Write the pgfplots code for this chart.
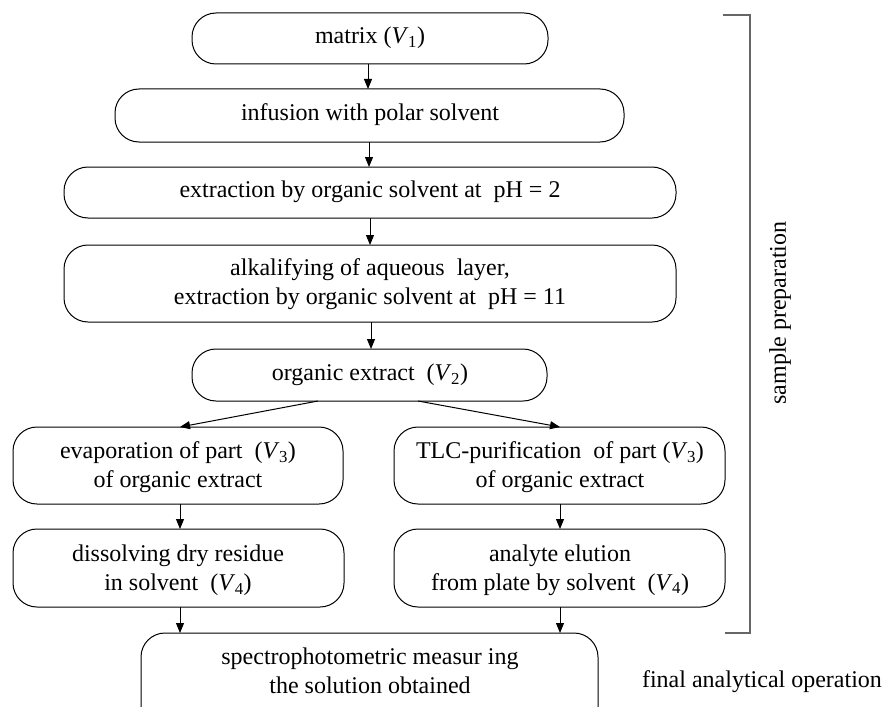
\documentclass[border=0pt]{standalone}
\usepackage{fontspec}
\setmainfont{Liberation Serif}
\usepackage{pgfplots}
\pgfplotsset{compat=1.18}
\usetikzlibrary{arrows.meta}
\newcommand{\V}[1]{\textit{V}\kern-0.5pt\textsubscript{#1}}
\tikzset{
  bx/.style={draw=black, line width=1pt, rounded corners=24pt},
  lbl/.style={align=center, font=\fontsize{24}{29}\selectfont, inner sep=0pt},
}
\pgfplotsset{arr/.style={black, solid, line width=1pt, -{Triangle[length=10pt,width=8pt]}, mark=none}}
\begin{document}
\begin{tikzpicture}
\begin{axis}[name=ax,
  width=885pt, height=706pt, scale only axis,
  xmin=0, xmax=885, ymin=0, ymax=706, y dir=reverse,
  hide axis, clip=true,
]
% boxes
\draw[bx] (axis cs:192,13) rectangle (axis cs:548,64);
\draw[bx] (axis cs:115,89) rectangle (axis cs:624,142);
\draw[bx] (axis cs:64,167) rectangle (axis cs:676,218);
\draw[bx] (axis cs:64,245) rectangle (axis cs:676,322);
\draw[bx] (axis cs:192,349) rectangle (axis cs:547,401);
\draw[bx] (axis cs:13,427) rectangle (axis cs:343,504);
\draw[bx] (axis cs:394,427) rectangle (axis cs:725,504);
\draw[bx] (axis cs:13,529) rectangle (axis cs:344,607);
\draw[bx] (axis cs:394,529) rectangle (axis cs:725,607);
\draw[bx] (axis cs:141,633) rectangle (axis cs:598,745);
% arrows
\addplot[arr] coordinates {(368,64) (368,89)};
\addplot[arr] coordinates {(369,142) (369,167)};
\addplot[arr] coordinates {(370,218) (370,245)};
\addplot[arr] coordinates {(371,322) (371,349)};
\addplot[arr] coordinates {(318,401) (180,427)};
\addplot[arr] coordinates {(418,401) (560,427)};
\addplot[arr] coordinates {(180,504) (180,529)};
\addplot[arr] coordinates {(560,504) (560,529)};
\addplot[arr] coordinates {(180,607) (180,633)};
\addplot[arr] coordinates {(560,607) (560,633)};
% bracket
\addplot[draw=black!60, solid, line width=1.3pt, mark=none] coordinates {(723,15) (750,15) (750,633) (725,633)};
% texts
\node[lbl] at (axis cs:370,38) {matrix (\V{1})};
\node[lbl] at (axis cs:370,115) {infusion with polar solvent};
\node[lbl] at (axis cs:370,192) {extraction by organic solvent at\ \ pH = 2};
\node[lbl] at (axis cs:370,284) {alkalifying of aqueous\ \ layer,\\extraction by organic solvent at\ \ pH = 11};
\node[lbl] at (axis cs:370,375) {organic extract\ \ (\V{2})};
\node[lbl] at (axis cs:178,467) {evaporation of part\ \ (\V{3})\\of organic extract};
\node[lbl] at (axis cs:560,467) {TLC-purification\ \ of part (\V{3})\\of organic extract};
\node[lbl] at (axis cs:178,570) {dissolving dry residue\\in solvent\ \ (\V{4})};
\node[lbl] at (axis cs:560,570) {analyte elution\\from plate by solvent\ \ (\V{4})};
\node[lbl] at (axis cs:370,671) {spectrophotometric measur ing\\the solution obtained};
\node[lbl] at (axis cs:762,682) {final analytical operation};
\node[lbl, rotate=90] at (axis cs:780,313) {sample preparation};
\end{axis}
\pgfresetboundingbox
\useasboundingbox (ax.south west) rectangle (ax.north east);
\end{tikzpicture}
\end{document}
